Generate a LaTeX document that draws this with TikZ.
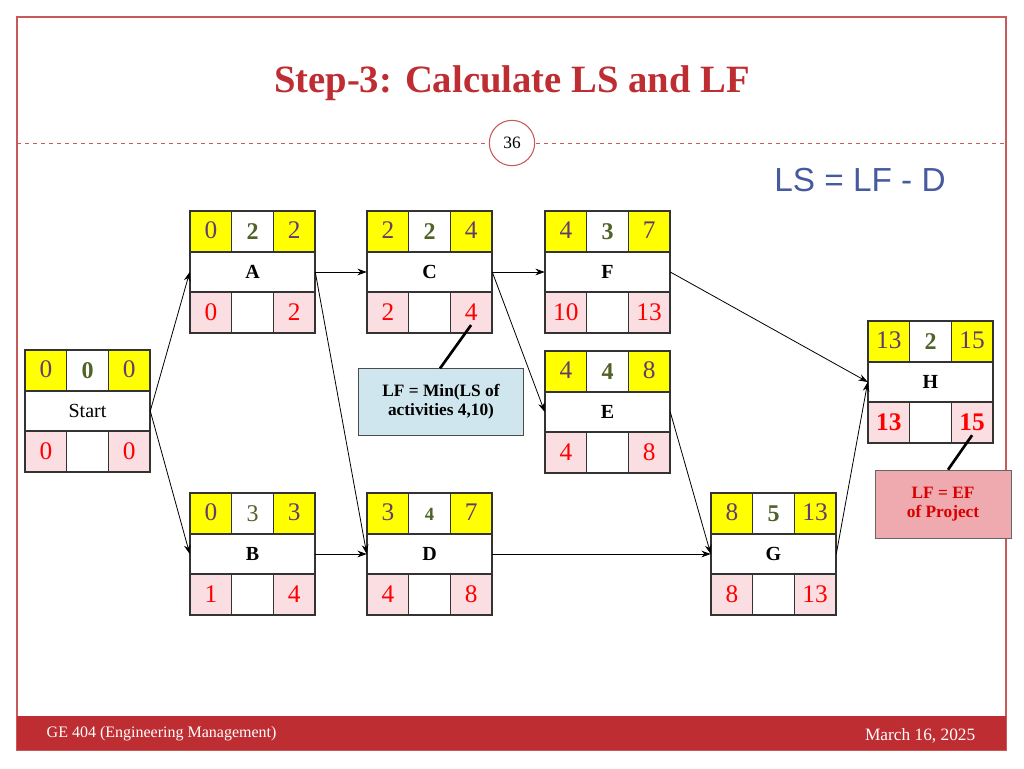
\documentclass[tikz,border=0pt]{standalone}
\usepackage{fontspec}
\setmainfont{Liberation Serif}
\newfontfamily\lsfont{Liberation Sans}
\usetikzlibrary{arrows.meta}
\definecolor{ttl}{RGB}{190,45,50}
\definecolor{pur}{RGB}{96,60,112}
\definecolor{olv}{RGB}{79,98,40}
\definecolor{pnk}{RGB}{250,222,226}
\definecolor{ylw}{RGB}{255,255,0}
\definecolor{calblue}{RGB}{207,230,238}
\definecolor{calpink}{RGB}{238,170,175}
\definecolor{lsblue}{RGB}{70,90,160}
\definecolor{frame}{RGB}{200,90,90}
\tikzset{
  boxn/.style={draw=none,minimum width=93.75pt,minimum height=91.5pt,inner sep=0pt},
  cell/.style={draw=black!80,line width=0.8pt},
  num/.style={font=\fontsize{19}{20}\selectfont,text=pur},
  dur/.style={font=\fontsize{18}{20}\selectfont,text=olv},
  red/.style={font=\fontsize{19}{20}\selectfont,text=red},
  lbl/.style={font=\fontsize{15}{16}\selectfont\bfseries},
  conn/.style={-{Stealth[length=7pt,width=5pt]},line width=0.6pt},
}
% name, cx, cy, label, es, dur, ef, ls, lf
\newcommand\actbox[9]{%
  \node[boxn] (#1) at (#2,#3) {};
  \fill[ylw] (#2-62.5,#3-61) rectangle (#2-20.8,#3-20);
  \fill[ylw] (#2+20.8,#3-61) rectangle (#2+62.5,#3-20);
  \fill[pnk] (#2-62.5,#3+20) rectangle (#2-20.8,#3+61);
  \fill[pnk] (#2+20.8,#3+20) rectangle (#2+62.5,#3+61);
  \draw[cell] (#2-62.5,#3-61) rectangle (#2+62.5,#3+61);
  \draw[cell] (#2-62.5,#3-20) -- (#2+62.5,#3-20);
  \draw[cell] (#2-62.5,#3+20) -- (#2+62.5,#3+20);
  \draw[cell] (#2-20.8,#3-61) -- (#2-20.8,#3-20) (#2+20.8,#3-61) -- (#2+20.8,#3-20);
  \draw[cell] (#2-20.8,#3+20) -- (#2-20.8,#3+61) (#2+20.8,#3+20) -- (#2+20.8,#3+61);
  \node[num] (#1es) at (#2-41.6,#3-42) {#5};
  \node[dur] (#1d) at (#2,#3-40) {#6};
  \node[num] (#1ef) at (#2+41.6,#3-42) {#7};
  \node[lbl] (#1l) at (#2,#3) {#4};
  \node[red] (#1ls) at (#2-41.6,#3+40) {#8};
  \node[red] (#1lf) at (#2+41.6,#3+40) {#9};
}
\begin{document}
\begin{tikzpicture}[x=0.75pt,y=-0.75pt]
\useasboundingbox (0,0) rectangle (1024,768);
\fill[white] (0,0) rectangle (1024,768);
\draw[frame,line width=0.8pt] (17,17) rectangle (1006,750);
\node[text=ttl,font=\fontsize{29}{32}\selectfont\bfseries] (title) at (512,83) {Step-3: Calculate LS and LF};
\draw[frame,dashed,line width=0.6pt] (17,143) -- (488,143) (536,143) -- (1006,143);
\node[circle,draw=frame,fill=white,line width=0.8pt,minimum size=34pt,inner sep=0pt,font=\fontsize{13}{14}\selectfont] (pg) at (512,143) {36};
\node[text=lsblue,font=\fontsize{25}{28}\selectfont\lsfont] (form) at (860,180) {LS = LF - D};
\fill[ttl] (17,716) rectangle (1006,750);
\node[anchor=west,text=white,font=\fontsize{12}{14}\selectfont] (foot) at (42,734) {GE 404 (Engineering Management)};
\node[anchor=east,text=white,font=\fontsize{13}{15}\selectfont] (date) at (980,736) {March 16, 2025};

\actbox{S}{87.5}{411}{\mdseries Start}{0}{\textbf{0}}{0}{0}{0}
\actbox{A}{252.5}{272}{A}{0}{\textbf{2}}{2}{0}{2}
\actbox{C}{429.5}{272}{C}{2}{\textbf{2}}{4}{2}{4}
\actbox{F}{607.5}{272}{F}{4}{\textbf{3}}{7}{10}{13}
\actbox{E}{607.5}{412}{E}{4}{\textbf{4}}{8}{4}{8}
\actbox{B}{252.5}{554}{B}{0}{3}{3}{1}{4}
\actbox{D}{429.5}{554}{D}{3}{\fontsize{14}{15}\selectfont\textbf{4}}{7}{4}{8}
\actbox{G}{773.5}{554}{G}{8}{\textbf{5}}{13}{8}{13}
\actbox{H}{930.5}{382}{H}{13}{\textbf{2}}{15}{\textbf{13}}{\textbf{15}}

\draw[conn] (S.east) -- (A.west);
\draw[conn] (S.east) -- (B.west);
\draw[conn] (A.east) -- (C.west);
\draw[conn] (A.east) -- (D.west);
\draw[conn] (B.east) -- (D.west);
\draw[conn] (C.east) -- (F.west);
\draw[conn] (C.east) -- (E.west);
\draw[conn] (D.east) -- (G.west);
\draw[conn] (E.east) -- (G.west);
\draw[conn] (F.east) -- (H.west);
\draw[conn] (G.east) -- (H.west);

\node[draw=black!70,fill=calblue,minimum width=124pt,minimum height=50pt,align=center,font=\fontsize{13}{14}\selectfont\bfseries] (c1) at (441,402) {LF = Min(LS of\\activities 4,10)};
\draw[line width=2pt] (Clf.south) -- (c1.north -| 440,0);
\node[draw=black!60,fill=calpink,text=red!85!black,minimum width=102pt,minimum height=51pt,align=center,font=\fontsize{13}{14}\selectfont\bfseries] (c2) at (943,504) {LF = EF\\of Project};
\draw[line width=2pt] (Hlf.south) -- (c2.north -| 948,0);
\end{tikzpicture}
\end{document}
